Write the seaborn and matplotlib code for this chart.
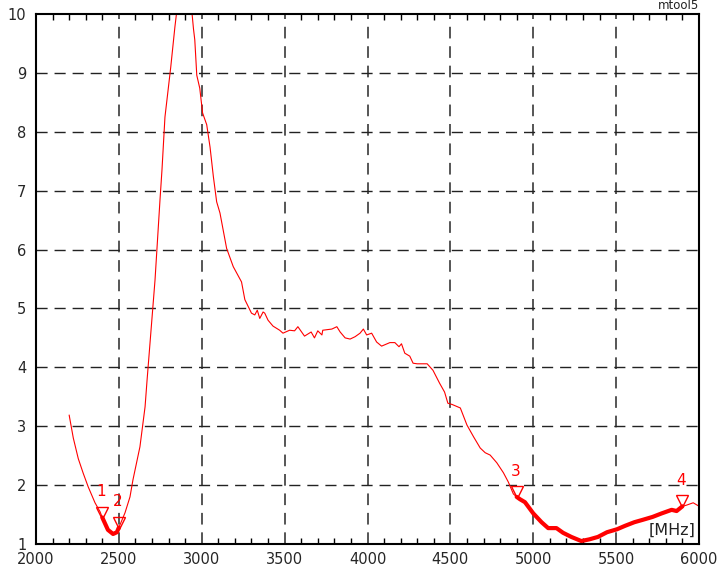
import matplotlib
matplotlib.use("Agg")
import matplotlib.pyplot as plt
import matplotlib.transforms as mtrans
from matplotlib.ticker import MultipleLocator
import numpy as np
import pandas as pd
import seaborn as sns

## data (frequency in MHz, VSWR-like value)
freq = [2200, 2225, 2255, 2285, 2315, 2356, 2386, 2400, 2434, 2465, 2488, 2500,
        2537, 2567, 2585, 2627, 2658, 2670, 2718, 2748, 2760, 2778, 2797, 2813,
        2838, 2860, 2880, 2910, 2935, 2950, 2958, 2970, 2988, 3005, 3030, 3050,
        3070, 3090, 3110, 3150, 3190, 3240, 3260, 3300, 3320, 3335, 3350, 3370,
        3380, 3400, 3430, 3470, 3490, 3530, 3560, 3580, 3620, 3660, 3680, 3700,
        3725, 3730, 3785, 3815, 3835, 3865, 3895, 3925, 3955, 3975, 3995, 4025,
        4055, 4085, 4135, 4165, 4190, 4205, 4225, 4255, 4275, 4300, 4360, 4395,
        4435, 4465, 4485, 4510, 4560, 4600, 4640, 4680, 4710, 4740, 4780, 4820,
        4850, 4880, 4900, 4920, 4950, 5000, 5050, 5090, 5140, 5180, 5230, 5290,
        5340, 5390, 5445, 5505, 5555, 5610, 5660, 5720, 5775, 5835, 5865, 5900,
        5925, 5965, 5995, 6000]
vswr = [3.19, 2.80, 2.45, 2.20, 1.97, 1.70, 1.55, 1.45, 1.24, 1.17, 1.20, 1.28,
        1.53, 1.80, 2.09, 2.65, 3.33, 3.78, 5.48, 6.84, 7.35, 8.25, 8.71, 9.10,
        9.78, 10.3, 10.6, 10.6, 10.2, 9.75, 9.56, 8.96, 8.74, 8.32, 8.12, 7.74,
        7.24, 6.81, 6.62, 6.02, 5.71, 5.45, 5.15, 4.92, 4.89, 4.97, 4.83, 4.94,
        4.92, 4.80, 4.70, 4.63, 4.58, 4.63, 4.62, 4.69, 4.53, 4.60, 4.50, 4.62,
        4.55, 4.63, 4.65, 4.69, 4.60, 4.50, 4.48, 4.52, 4.58, 4.65, 4.55, 4.58,
        4.43, 4.36, 4.42, 4.42, 4.35, 4.40, 4.24, 4.19, 4.07, 4.06, 4.06, 3.95,
        3.73, 3.58, 3.39, 3.37, 3.31, 3.02, 2.82, 2.63, 2.55, 2.51, 2.38, 2.21,
        2.05, 1.85, 1.80, 1.76, 1.71, 1.52, 1.37, 1.27, 1.27, 1.19, 1.12, 1.05,
        1.08, 1.12, 1.20, 1.25, 1.31, 1.37, 1.41, 1.46, 1.52, 1.58, 1.56, 1.64,
        1.66, 1.70, 1.65, 1.65]

marker_no = ["1", "2", "3", "4"]
marker_x = [2400, 2500, 4900, 5900]
marker_y = [1.45, 1.28, 1.80, 1.64]

# bands between marker pairs drawn thick
bands = [(2400, 2500), (4900, 5900)]

x_ticks = [2000, 2500, 3000, 3500, 4000, 4500, 5000, 5500, 6000]
y_ticks = [1, 2, 3, 4, 5, 6, 7, 8, 9, 10]

red = "#ff0000"

##PLOT:
sns.set_style("white")
plt.rcParams["font.family"] = ["DejaVu Sans"]

df = pd.DataFrame({"freq": freq, "vswr": vswr})

fig = plt.figure(figsize=(7.22, 5.71), dpi=100)
ax = fig.add_axes([36 / 722, 1 - 544 / 571, 663 / 722, 530 / 571])

sns.lineplot(data=df, x="freq", y="vswr", ax=ax, color=red, linewidth=0.8,
             sort=False, estimator=None)
for lo, hi in bands:
    sub = df[(df.freq >= lo) & (df.freq <= hi)]
    sns.lineplot(data=sub, x="freq", y="vswr", ax=ax, color=red, linewidth=3.0,
                 sort=False, estimator=None, solid_capstyle="round")

# markers: hollow triangles sitting on the trace, number above
tri_tr = mtrans.offset_copy(ax.transData, fig=fig, x=0, y=3.5, units="points")
ax.plot(marker_x, marker_y, linestyle="none", marker="v", markersize=8,
        markerfacecolor="none", markeredgecolor=red, markeredgewidth=1.0,
        transform=tri_tr, zorder=5)
for lab, mx, my in zip(marker_no, marker_x, marker_y):
    ax.annotate(lab, (mx, my), xytext=(-1, 13), textcoords="offset points",
                ha="center", va="bottom", color=red, fontsize=11)

ax.set_xlim(2000, 6000)
ax.set_ylim(1, 10)
ax.set_xticks(x_ticks)
ax.set_yticks(y_ticks)
ax.xaxis.set_minor_locator(MultipleLocator(100))
ax.tick_params(axis="x", which="minor", direction="in", length=4, width=1,
               top=True, bottom=True, color="black")
ax.tick_params(axis="x", which="major", direction="in", length=0, labelsize=10.5, pad=6)
ax.tick_params(axis="y", which="major", length=0, labelsize=10.5, pad=7)
ax.set_xlabel("")
ax.set_ylabel("")

# dashed grid
for gx in x_ticks[1:-1]:
    ax.axvline(gx, color="#555555", linewidth=1.4, dashes=(6, 4), zorder=0)
for gy in y_ticks[1:-1]:
    ax.axhline(gy, color="#222222", linewidth=1.0, dashes=(8, 5), zorder=0)

for sp in ax.spines.values():
    sp.set_color("black")
    sp.set_linewidth(1.5)

ax.text(0.995, 0.012, "[MHz]", transform=ax.transAxes, ha="right", va="bottom",
        fontsize=11.5, color="#222222",
        bbox=dict(facecolor="white", edgecolor="none", pad=0.5))
ax.text(1.0, 1.003, "mtool5", transform=ax.transAxes, ha="right", va="bottom",
        fontsize=8.5, color="#222222")

fig.savefig("out.png", dpi=100)
